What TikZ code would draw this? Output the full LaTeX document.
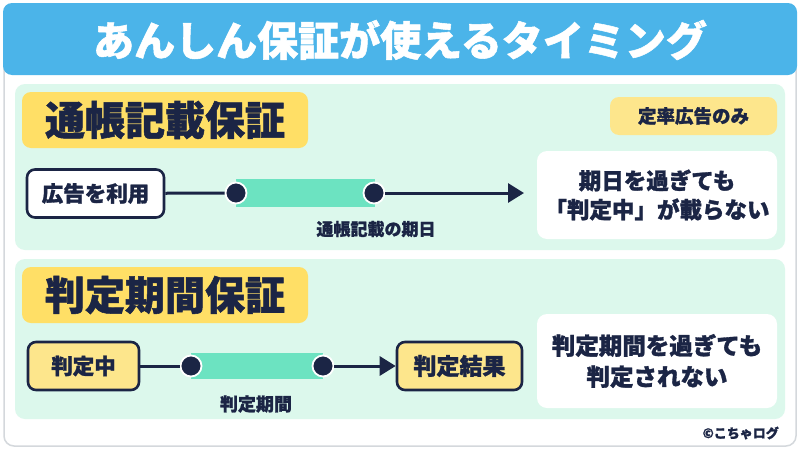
\documentclass[tikz,border=0pt]{standalone}
\usepackage{fontspec}
\setmainfont{Noto Sans CJK JP}[BoldFeatures={FakeBold=1.3}]
\usetikzlibrary{arrows.meta}
\definecolor{navy}{HTML}{1B2545}
\definecolor{titleblue}{HTML}{4BB4E9}
\definecolor{mint}{HTML}{DCF8EC}
\definecolor{headyellow}{HTML}{FFDF66}
\definecolor{softyellow}{HTML}{FDE68C}
\definecolor{barGreen}{HTML}{6CE3C1}
\definecolor{cardline}{HTML}{D4D8DC}
\tikzset{
  panel/.style={fill=mint, rounded corners=10pt},
  heading/.style={fill=headyellow, rounded corners=9pt, inner sep=0pt, minimum width=286pt, minimum height=56pt, font=\bfseries\fontsize{40}{40}\selectfont, text=navy},
  stepbox/.style={draw=navy, line width=2.6pt, rounded corners=8pt, inner sep=0pt, minimum height=48pt, font=\bfseries\fontsize{21.5}{21.5}\selectfont, text=navy},
  notebox/.style={fill=white, rounded corners=10pt, inner sep=0pt, align=center, text=navy},
  dot/.style={circle, fill=navy, draw=white, line width=1.8pt, minimum size=21pt, inner sep=0pt},
  bar/.style={fill=barGreen, inner sep=0pt},
  conn/.style={draw=navy, line width=3pt},
  tip/.style={-{Triangle[length=16pt,width=19pt]}},
  lbl/.style={font=\bfseries\fontsize{17}{17}\selectfont, text=navy, inner sep=0pt}
}
\begin{document}
\begin{tikzpicture}[x=1pt,y=-1pt]
\useasboundingbox (0,0) rectangle (800,450);
\fill[white] (0,0) rectangle (800,450);
% outer card
\draw[cardline, line width=1.5pt, fill=white, rounded corners=10pt] (4,6) rectangle (796,446);
% title band
\fill[titleblue, rounded corners=9pt] (3,3) rectangle (797,75);
\node[text=white, font=\bfseries\fontsize{41}{41}\selectfont, inner sep=0pt] (title) at (400,40) {あんしん保証が使えるタイミング};

% ---------- panel 1 ----------
\fill[panel] (15,84) rectangle (785,250);
\node[heading] (h1) at (165,120) {通帳記載保証};
\node[fill=softyellow, rounded corners=9pt, inner sep=0pt, minimum width=167pt, minimum height=38pt, font=\bfseries\fontsize{18.5}{18.5}\selectfont, text=navy] (only) at (693.5,116) {定率広告のみ};
\node[stepbox, fill=white, minimum width=137pt] (use) at (95.5,193.5) {広告を利用};
\node[bar, minimum width=139pt, minimum height=28pt] (bar1) at (305.5,193) {};
\node[dot] (d1) at (236,193) {};
\node[dot] (d2) at (374,193) {};
\coordinate (e1) at (524,193);
\draw[conn] (use) -- (d1);
\draw[conn, tip] (d2) -- (e1);
\node[lbl] (l1) at (376,229) {通帳記載の期日};
\node[notebox, minimum width=240pt, minimum height=88pt, font=\bfseries\fontsize{22.5}{29}\selectfont] (n1) at (657,195) {期日を過ぎても\\「判定中」が載らない};

% ---------- panel 2 ----------
\fill[panel] (15,259) rectangle (785,419);
\node[heading] (h2) at (165,295) {判定期間保証};
\node[stepbox, fill=softyellow, minimum width=111pt] (judging) at (83.5,366) {判定中};
\node[bar, minimum width=132pt, minimum height=26pt] (bar2) at (257,366) {};
\node[dot] (d3) at (191,366) {};
\node[dot] (d4) at (323,366) {};
\node[stepbox, fill=softyellow, minimum width=125pt, font=\bfseries\fontsize{23}{23}\selectfont] (result) at (459.5,366) {判定結果};
\draw[conn] (judging) -- (d3);
\draw[conn, tip] (d4) -- (result);
\node[lbl, font=\bfseries\fontsize{18}{18}\selectfont] (l2) at (256,404) {判定期間};
\node[notebox, minimum width=240pt, minimum height=94pt, font=\bfseries\fontsize{23.5}{31}\selectfont] (n2) at (657,361) {判定期間を過ぎても\\判定されない};

\node[font=\bfseries\fontsize{13}{13}\selectfont, text=navy, inner sep=0pt, anchor=east] (copy) at (779,433) {©こちゃログ};
\end{tikzpicture}
\end{document}
